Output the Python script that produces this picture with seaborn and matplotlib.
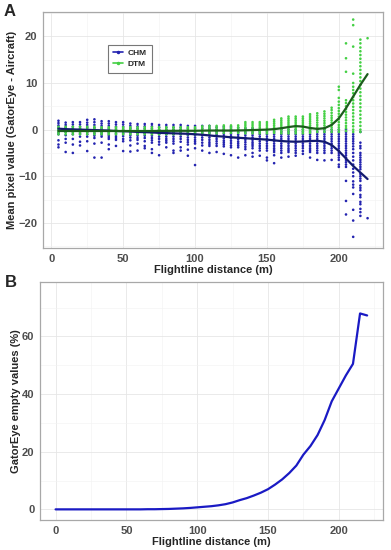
import numpy as np
import pandas as pd
import matplotlib
matplotlib.use("Agg")
import matplotlib.pyplot as plt
from matplotlib.lines import Line2D
from matplotlib.ticker import MultipleLocator
import seaborn as sns

# Panel A: distance columns (m)
dist_a = [5, 10, 15, 20, 25, 30, 35, 40, 45, 50, 55, 60, 65, 70, 75, 80, 85, 90, 95, 100,
          105, 110, 115, 120, 125, 130, 135, 140, 145, 150, 155, 160, 165, 170, 175, 180,
          185, 190, 195, 200, 205, 210, 215, 220]

# CHM differences, one list per distance column
chm_vals = [
    [1.9, 1.4, 0.9, 0.4, -0.1, -0.6, -1.0, -2.3, -3.2, -3.8],
    [1.5, 1.0, 0.5, 0.0, -0.5, -1.2, -2.0, -2.8, -4.8],
    [1.6, 1.1, 0.6, 0.1, -0.4, -1.0, -2.0, -3.2, -5.0],
    [1.6, 1.1, 0.6, 0.1, -0.4, -0.9, -1.5, -2.6, -3.4],
    [2.1, 1.5, 1.0, 0.5, 0.0, -0.5, -1.0, -1.5, -2.5, -4.6],
    [2.2, 1.6, 1.0, 0.4, -0.2, -0.8, -1.3, -1.8, -3.0, -6.0],
    [1.8, 1.3, 0.8, 0.3, -0.2, -0.7, -1.1, -1.5, -2.8, -6.0],
    [1.8, 1.3, 0.8, 0.3, -0.2, -0.7, -1.2, -1.6, -2.0, -3.2, -4.2],
    [1.6, 1.1, 0.6, 0.1, -0.4, -0.9, -1.4, -1.8, -2.2, -3.5],
    [1.6, 1.1, 0.6, 0.1, -0.4, -0.9, -1.4, -2.0, -2.5, -4.6],
    [1.3, 0.8, 0.3, -0.2, -0.7, -1.2, -1.7, -2.3, -3.4, -4.7],
    [1.2, 0.7, 0.2, -0.3, -0.8, -1.3, -1.8, -2.2, -3.0, -4.5],
    [1.2, 0.7, 0.2, -0.3, -0.8, -1.3, -1.8, -2.5, -3.5, -4.0],
    [1.2, 0.7, 0.2, -0.3, -0.8, -1.3, -1.8, -2.3, -2.8, -4.2, -5.0],
    [1.0, 0.5, 0.0, -0.5, -1.0, -1.5, -2.0, -2.6, -3.2, -5.5],
    [1.0, 0.5, 0.0, -0.5, -1.0, -1.5, -2.0, -2.4, -2.8, -3.8],
    [1.0, 0.5, 0.0, -0.5, -1.0, -1.5, -2.0, -2.5, -3.0, -4.5, -5.0],
    [1.0, 0.5, 0.0, -0.5, -1.0, -1.5, -2.0, -2.6, -3.8, -4.5],
    [0.8, 0.3, -0.2, -0.7, -1.2, -1.7, -2.2, -2.7, -3.2, -4.3, -5.6],
    [0.8, 0.3, -0.2, -0.7, -1.2, -1.7, -2.2, -2.6, -3.0, -4.0, -7.6],
    [0.8, 0.3, -0.2, -0.7, -1.2, -1.7, -2.2, -2.8, -3.4, -4.5],
    [0.8, 0.3, -0.2, -0.7, -1.2, -1.7, -2.2, -2.7, -3.1, -3.5, -5.0],
    [0.5, 0.0, -0.5, -1.0, -1.5, -2.0, -2.5, -3.0, -3.5, -4.8],
    [0.6, 0.1, -0.4, -0.9, -1.4, -1.9, -2.4, -2.8, -3.2, -3.6, -5.2],
    [0.6, 0.1, -0.4, -0.9, -1.4, -1.9, -2.4, -2.9, -3.4, -3.8, -5.5],
    [0.4, -0.1, -0.6, -1.1, -1.6, -2.1, -2.6, -3.0, -3.4, -3.8, -6.0],
    [0.3, -0.2, -0.7, -1.2, -1.7, -2.2, -2.7, -3.2, -3.7, -4.2, -5.5],
    [0.3, -0.2, -0.7, -1.2, -1.7, -2.2, -2.7, -3.1, -3.5, -4.0, -5.0, -5.8],
    [0.0, -0.5, -1.0, -1.5, -2.0, -2.5, -3.0, -3.5, -4.0, -4.5, -5.6],
    [0.0, -0.5, -1.0, -1.5, -2.0, -2.5, -3.0, -3.5, -4.0, -4.5, -6.0, -6.6],
    [0.0, -0.5, -1.0, -1.5, -2.0, -2.5, -3.0, -3.5, -4.0, -4.4, -4.8, -5.5, -7.2],
    [0.0, -0.5, -1.0, -1.5, -2.0, -2.5, -3.0, -3.5, -4.0, -4.5, -5.0, -6.0],
    [0.0, -0.5, -1.0, -1.5, -2.0, -2.5, -3.0, -3.5, -4.0, -4.4, -4.8, -5.8],
    [0.0, -0.5, -1.0, -1.5, -2.0, -2.5, -3.0, -3.5, -4.0, -4.5, -5.0, -5.6],
    [0.0, -0.5, -1.0, -1.5, -2.0, -2.5, -3.0, -3.5, -4.0, -4.6, -5.2],
    [0.0, -0.5, -1.0, -1.5, -2.0, -2.5, -3.0, -3.5, -4.0, -4.4, -4.8, -6.0],
    [0.0, -0.5, -1.0, -1.5, -2.0, -2.5, -3.0, -3.5, -4.0, -4.5, -5.0, -6.5],
    [0.0, -0.5, -1.0, -1.5, -2.0, -2.5, -3.0, -3.5, -4.0, -4.5, -5.0, -6.6],
    [0.0, -0.5, -1.0, -1.5, -2.0, -2.5, -3.0, -3.5, -4.0, -4.5, -5.0, -6.5],
    [0.0, -0.5, -1.0, -1.5, -2.0, -2.5, -3.0, -3.5, -4.0, -4.5, -5.0, -5.5, -6.0, -6.5, -7.5, -8.0],
    [0.0, -0.5, -1.0, -1.5, -2.0, -2.5, -3.0, -3.5, -4.0, -4.5, -5.0, -5.5, -6.0, -6.5, -7.0, -7.5,
     -8.0, -11.0, -15.3, -18.2],
    [-1.0, -1.5, -2.0, -2.5, -3.0, -3.6, -4.2, -5.0, -5.8, -6.6, -7.5, -8.4, -9.2, -10.0, -11.1,
     -11.8, -12.4, -13.8, -17.2, -19.5, -23.0],
    [-0.5, -2.8, -3.5, -4.0, -5.0, -5.5, -6.0, -6.5, -7.0, -7.5, -8.0, -8.5, -9.5, -10.0, -10.5,
     -11.0, -12.0, -12.5, -13.0, -14.0, -14.5, -15.5, -16.0, -17.0, -17.7, -18.5],
    [-19.0],
]

# DTM differences, one list per distance column
dtm_vals = [
    [0.6, 0.2, -0.2, -0.6, -1.0], [0.6, 0.2, -0.2, -0.6, -1.0], [0.6, 0.2, -0.2, -0.6, -1.0],
    [0.6, 0.2, -0.2, -0.6, -1.0], [0.6, 0.2, -0.2, -0.6, -1.0], [0.6, 0.2, -0.2, -0.6, -1.0],
    [0.5, 0.1, -0.3, -0.7, -1.0], [0.5, 0.1, -0.3, -0.7, -1.0], [0.5, 0.1, -0.3, -0.7, -1.0],
    [0.5, 0.1, -0.3, -0.7, -1.0], [0.5, 0.1, -0.3, -0.7, -1.0], [0.5, 0.1, -0.3, -0.7, -1.0],
    [0.5, 0.1, -0.3, -0.7, -1.0], [0.5, 0.1, -0.3, -0.7, -1.0], [0.5, 0.1, -0.3, -0.7, -1.0],
    [0.5, 0.1, -0.3, -0.7, -1.0], [0.5, 0.1, -0.3, -0.7, -1.0], [0.5, 0.1, -0.3, -0.7, -1.0],
    [0.5, 0.1, -0.3, -0.7, -1.0], [0.5, 0.1, -0.3, -0.7, -1.0],
    [0.7, 0.3, -0.1, -0.5, -0.9],
    [0.8, 0.4, 0.0, -0.4, -0.8],
    [0.8, 0.4, 0.0, -0.4, -0.8],
    [0.9, 0.5, 0.1, -0.3, -0.7],
    [0.9, 0.5, 0.1, -0.3, -0.7],
    [0.9, 0.5, 0.1, -0.3, -0.7],
    [1.6, 1.2, 0.8, 0.4, 0.0, -0.4, -0.8],
    [1.6, 1.2, 0.8, 0.4, 0.0, -0.4, -0.8],
    [1.6, 1.2, 0.8, 0.4, 0.0, -0.4, -0.8],
    [1.6, 1.2, 0.8, 0.4, 0.0, -0.4, -0.8],
    [2.1, 1.7, 1.3, 0.9, 0.5, 0.1, -0.3, -0.7],
    [2.4, 2.0, 1.6, 1.2, 0.8, 0.4, 0.0, -0.4, -0.8],
    [2.8, 2.4, 2.0, 1.6, 1.2, 0.8, 0.4, 0.0, -0.4, -0.8],
    [2.8, 2.4, 2.0, 1.6, 1.2, 0.8, 0.4, 0.0, -0.4, -0.8],
    [2.8, 2.4, 2.0, 1.6, 1.2, 0.8, 0.4, 0.0, -0.4, -0.8],
    [3.3, 2.9, 2.5, 2.1, 1.7, 1.3, 0.9, 0.5, 0.1, -0.3, -0.7],
    [3.5, 3.0, 2.5, 2.0, 1.5, 1.0, 0.5, 0.0, -0.5],
    [3.9, 3.4, 2.9, 2.4, 1.9, 1.4, 0.9, 0.4, 0.0, -0.5],
    [4.7, 4.2, 3.6, 3.0, 2.5, 2.0, 1.5, 1.0, 0.5, 0.0, -0.5],
    [9.2, 8.5, 6.8, 6.0, 5.3, 4.6, 4.0, 3.4, 2.8, 2.2, 1.6, 1.0, 0.5, 0.0, -0.5],
    [18.5, 15.3, 12.4, 6.3, 5.7, 5.0, 4.4, 3.8, 3.2, 2.6, 2.0, 1.4, 0.8, 0.3, -0.3],
    [23.6, 22.4, 17.8, 12.0, 10.0, 9.2, 8.5, 7.8, 7.0, 6.3, 5.6, 4.9, 4.2, 3.5, 2.8, 2.1, 1.4,
     0.7, 0.0, -0.5],
    [19.3, 18.5, 17.6, 16.8, 16.0, 15.2, 14.4, 13.6, 12.8, 12.0, 11.2, 10.4, 9.6, 8.8, 8.0, 7.2,
     6.4, 5.6, 4.8, 4.0, 3.2, 2.4, 1.6, 0.8, 0.0, -0.5],
    [19.6],
]

# smoothed trend lines
chm_fit = [0.2, 0.1, 0.05, 0.0, -0.05, -0.1, -0.15, -0.2, -0.3, -0.35, -0.4, -0.5, -0.55, -0.6,
           -0.7, -0.75, -0.8, -0.85, -0.9, -1.0, -1.1, -1.25, -1.4, -1.5, -1.65, -1.75, -1.85,
           -1.95, -2.05, -2.15, -2.3, -2.45, -2.55, -2.6, -2.55, -2.45, -2.4, -2.6, -3.3, -4.6,
           -6.2, -7.8, -9.2, -10.6]
dtm_fit = [-0.3, -0.3, -0.3, -0.3, -0.3, -0.3, -0.3, -0.3, -0.3, -0.3, -0.3, -0.3, -0.3, -0.3,
           -0.28, -0.27, -0.26, -0.25, -0.25, -0.25, -0.22, -0.2, -0.2, -0.2, -0.2, -0.18, -0.15,
           -0.1, -0.05, 0.0, 0.1, 0.3, 0.55, 0.75, 0.65, 0.35, 0.15, 0.3, 1.0, 2.4, 4.6, 7.1,
           9.6, 11.9]

# Panel B: percent of empty GatorEye cells
dist_b = [0, 5, 10, 15, 20, 25, 30, 35, 40, 45, 50, 55, 60, 65, 70, 75, 80, 85, 90, 95, 100,
          105, 110, 115, 120, 125, 130, 135, 140, 145, 150, 155, 160, 165, 170, 175, 180, 185,
          190, 195, 200, 205, 210, 215, 220]
empty_pct = [0, 0, 0, 0, 0, 0, 0, 0, 0, 0, 0, 0, 0, 0.05, 0.05, 0.1, 0.15, 0.25, 0.35, 0.5,
             0.7, 0.9, 1.1, 1.4, 1.8, 2.4, 3.2, 3.9, 4.8, 5.8, 7.0, 8.6, 10.4, 12.6, 15.2,
             19.0, 22.0, 25.8, 31.0, 37.5, 42.0, 46.5, 50.5, 68.0, 67.3]

CHM_PT, CHM_LN = "#2424b0", "#121a6e"
DTM_PT, DTM_LN = "#44d044", "#1c5c1c"

rows = []
for x, ys in zip(dist_a, chm_vals):
    rows += [(x, y, "CHM") for y in ys]
for x, ys in zip(dist_a, dtm_vals):
    rows += [(x, y, "DTM") for y in ys]
pts = pd.DataFrame(rows, columns=["dist", "diff", "layer"])
fits = pd.DataFrame({"dist": dist_a * 2, "diff": chm_fit + dtm_fit,
                     "layer": ["CHM"] * len(dist_a) + ["DTM"] * len(dist_a)})
empty = pd.DataFrame({"dist": dist_b, "pct": empty_pct})

sns.set_style("white")
plt.rcParams["font.family"] = ["Liberation Sans", "DejaVu Sans"]


def style_ax(ax):
    ax.grid(True, which="major", color="#e6e6e6", lw=0.6)
    ax.grid(True, which="minor", color="#f2f2f2", lw=0.4)
    ax.set_axisbelow(True)
    for s in ax.spines.values():
        s.set_color("#a8a8a8")
        s.set_linewidth(0.9)
    ax.tick_params(axis="both", which="major", length=2.5, width=0.6, color="#555555",
                   labelsize=8, labelcolor="#4d4d4d", pad=1.5)
    ax.tick_params(which="minor", length=0)
    for lab in ax.get_xticklabels() + ax.get_yticklabels():
        lab.set_fontweight("bold")


fig = plt.figure(figsize=(3.91, 5.5), dpi=100)
ax1 = fig.add_axes([0.110, 0.549, 0.8696, 0.429])
ax2 = fig.add_axes([0.1023, 0.0545, 0.8765, 0.4327])

# panel A
sns.scatterplot(data=pts, x="dist", y="diff", hue="layer", palette=[CHM_PT, DTM_PT],
                s=3.5, linewidth=0, legend=False, ax=ax1)
sns.lineplot(data=fits, x="dist", y="diff", hue="layer", palette=[CHM_LN, DTM_LN],
             lw=1.6, legend=False, ax=ax1)
ax1.set_xlim(-5.75, 230.75)
ax1.set_ylim(-25.4, 25.2)
ax1.set_xticks([0, 50, 100, 150, 200])
ax1.set_yticks([-20, -10, 0, 10, 20])
ax1.set_yticklabels(["\u221220", "\u221210", "0", "10", "20"])
ax1.xaxis.set_minor_locator(MultipleLocator(25))
ax1.yaxis.set_minor_locator(MultipleLocator(5))
ax1.set_xlabel("Flightline distance (m)", fontsize=8, fontweight="bold", labelpad=1)
ax1.set_ylabel("Mean pixel value (GatorEye - Aircraft)", fontsize=8, fontweight="bold",
               labelpad=1)
style_ax(ax1)

handles = [Line2D([0], [0], color=CHM_PT, lw=1.2, marker=".", ms=3),
           Line2D([0], [0], color=DTM_PT, lw=1.2, marker=".", ms=3)]
leg = ax1.legend(handles, ["CHM", "DTM"], loc="upper left", bbox_to_anchor=(0.18, 0.88),
                 prop={"size": 6, "weight": "bold"}, handlelength=1.2, handletextpad=0.5,
                 borderpad=0.6, labelspacing=0.3, fancybox=False, framealpha=1)
leg.get_frame().set_edgecolor("#777777")
leg.get_frame().set_linewidth(0.8)

# panel B
sns.lineplot(data=empty, x="dist", y="pct", color="#1a1ac4", lw=1.6, ax=ax2)
ax2.set_xlim(-11, 231)
ax2.set_ylim(-3.7, 78.9)
ax2.set_xticks([0, 50, 100, 150, 200])
ax2.set_yticks([0, 20, 40, 60])
ax2.xaxis.set_minor_locator(MultipleLocator(25))
ax2.yaxis.set_minor_locator(MultipleLocator(10))
ax2.set_xlabel("Flightline distance (m)", fontsize=8, fontweight="bold", labelpad=1)
ax2.set_ylabel("GatorEye empty values (%)", fontsize=8, fontweight="bold", labelpad=1)
style_ax(ax2)

fig.text(0.008, 0.992, "A", fontsize=12, fontweight="bold", va="top", ha="left")
fig.text(0.013, 0.500, "B", fontsize=12, fontweight="bold", va="top", ha="left")

fig.savefig("out.png", dpi=100)
